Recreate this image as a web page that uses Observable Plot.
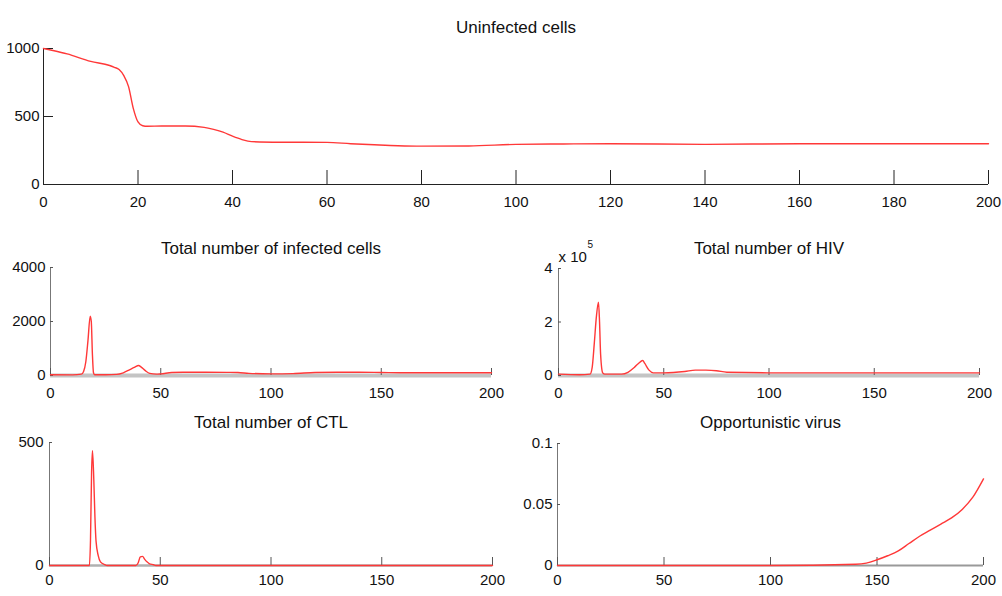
<!DOCTYPE html>
<html>
<head>
<meta charset="utf-8">
<script src="https://cdn.jsdelivr.net/npm/d3@7"></script>
<script src="https://cdn.jsdelivr.net/npm/@observablehq/plot@0.6"></script>
<style>
  html, body { margin: 0; padding: 0; background: #fff; }
  #chart { position: relative; width: 1002px; height: 596px; background: #fff; overflow: hidden; }
  #chart svg { position: absolute; }
</style>
</head>
<body>
<div id="chart"></div>
<script>
// ---------- DATA ----------
const titles = ["Uninfected cells", "Total number of infected cells", "Total number of HIV", "Total number of CTL", "Opportunistic virus"];

const uninfectedTime  = [0, 2, 5, 10, 14, 15, 16, 17, 18, 19, 20, 21, 22, 25, 30, 34, 36, 38, 40, 42, 44, 50, 60, 65, 70, 75, 80, 90, 100, 110, 120, 140, 160, 180, 200];
const uninfectedCells = [1000, 985, 960, 905, 875, 862, 845, 800, 720, 560, 460, 432, 428, 430, 430, 420, 405, 385, 355, 330, 315, 311, 310, 300, 292, 285, 282, 283, 295, 298, 300, 295, 300, 300, 300];

const infectedTime  = [0, 10, 14, 15, 16, 17, 18, 18.5, 19, 19.5, 20, 25, 30, 33, 36, 38, 40, 41, 43, 45, 48, 50, 55, 60, 70, 80, 85, 90, 100, 110, 120, 130, 140, 150, 160, 180, 200];
const infectedCells = [30, 25, 50, 150, 500, 1300, 2200, 2000, 800, 100, 30, 30, 40, 100, 220, 300, 370, 320, 180, 80, 50, 60, 110, 120, 120, 115, 110, 80, 60, 70, 110, 120, 120, 110, 100, 100, 100];

const hivTime = [0, 10, 15, 16, 17, 18, 19, 19.5, 20, 21, 22, 30, 33, 36, 38, 40, 41, 43, 45, 50, 60, 65, 70, 75, 80, 100, 150, 200];
const hivE5   = [0.05, 0.03, 0.05, 0.3, 1.2, 2.2, 2.74, 2.0, 0.8, 0.1, 0.05, 0.05, 0.12, 0.3, 0.45, 0.56, 0.45, 0.2, 0.1, 0.1, 0.15, 0.2, 0.2, 0.18, 0.12, 0.1, 0.1, 0.1];

const ctlTime  = [0, 18, 18.5, 19, 19.4, 20, 20.5, 21, 22, 23, 25, 26, 39, 40, 41, 42, 43, 44, 45, 47, 48, 200];
const ctlCount = [0, 0, 100, 380, 467, 350, 200, 100, 40, 15, 3, 0, 0, 10, 35, 37, 25, 15, 8, 3, 0, 0];

const oppTime  = [0, 100, 140, 145, 150, 155, 160, 165, 170, 175, 180, 185, 190, 195, 200];
const oppVirus = [0, 0, 0.001, 0.002, 0.0047, 0.008, 0.012, 0.018, 0.024, 0.029, 0.034, 0.039, 0.046, 0.056, 0.071];

const xTicksTop   = [0, 20, 40, 60, 80, 100, 120, 140, 160, 180, 200];
const xTicksSmall = [0, 50, 100, 150, 200];
const yTicksUninf = [0, 500, 1000];
const yTicksInf   = [0, 2000, 4000];
const yTicksHiv   = [0, 2, 4];
const yTicksCtl   = [0, 500];
const yTicksOpp   = [0, 0.05, 0.1];
const hivExponentBase = "x 10";
const hivExponent = "5";

const zip = (t, v) => t.map((d, i) => ({t: d, v: v[i]}));

// ---------- FONT PICK (narrow face if present, else Arial-metric face) ----------
function hasFont(name) {
  const c = document.createElement("canvas").getContext("2d");
  const s = "Uninfected cells 0123456789";
  c.font = "20px monospace"; const a = c.measureText(s).width;
  c.font = `20px "${name}", monospace`; const b = c.measureText(s).width;
  return Math.abs(a - b) > 0.5;
}
let FONT, TITLE_SIZE, TICK_SIZE, EXP_SIZE, EXP_DX;
if (hasFont("Liberation Sans Narrow")) {
  FONT = '"Liberation Sans Narrow", sans-serif'; TITLE_SIZE = 20; TICK_SIZE = 17; EXP_SIZE = 11; EXP_DX = 28;
} else {
  FONT = '"Liberation Sans", Arial, sans-serif'; TITLE_SIZE = 17; TICK_SIZE = 15; EXP_SIZE = 10; EXP_DX = 29;
}

// ---------- DRAWING ----------
const RED = "#ff3838";
const chart = document.getElementById("chart");

function panel(o) {
  const marks = [
    Plot.ruleY([o.yDomain[0]], {stroke: o.bandColor, strokeWidth: o.bandWidth}),
    Plot.ruleX([0], {stroke: o.axisColor, strokeWidth: 1}),
    Plot.axisX(o.xTicks, {label: null, tickSize: -o.xTickSize, tickPadding: o.xPad, stroke: o.tickColor, fill: "#111", fontSize: TICK_SIZE, tickFormat: d => String(d)}),
    Plot.axisY(o.yTicks, {label: null, tickSize: -o.yTickSize, tickPadding: o.yPad, stroke: o.tickColor, fill: "#111", fontSize: TICK_SIZE, tickFormat: d => String(d)}),
    Plot.line(o.data, {x: "t", y: "v", stroke: RED, strokeWidth: 1.4, curve: "monotone-x"}),
    Plot.text([o.title], {frameAnchor: "top", dy: o.titleDy, fontSize: TITLE_SIZE, fill: "#111"})
  ];
  if (o.extra) marks.push(...o.extra);
  const svg = Plot.plot({
    width: o.width, height: o.height,
    marginLeft: o.ml, marginRight: o.mr, marginTop: o.mt, marginBottom: o.mb,
    style: {fontFamily: FONT, fontSize: TICK_SIZE + "px", color: "#111", background: "transparent", overflow: "visible"},
    x: {domain: [0, 200], axis: null},
    y: {domain: o.yDomain, axis: null},
    marks
  });
  svg.style.left = o.left + "px";
  svg.style.top = o.top + "px";
  chart.appendChild(svg);
}

// Top: uninfected cells
panel({
  data: zip(uninfectedTime, uninfectedCells), title: titles[0],
  left: 0, top: 0, width: 1002, height: 215, ml: 43, mr: 14, mt: 48, mb: 31,
  yDomain: [0, 1000], xTicks: xTicksTop, yTicks: yTicksUninf,
  xTickSize: 14, xPad: 26, yTickSize: 10, yPad: 14,
  axisColor: "#222", tickColor: "#222", bandColor: "#222", bandWidth: 1.2, titleDy: -28
});

// Middle left: infected cells
panel({
  data: zip(infectedTime, infectedCells), title: titles[1],
  left: 0, top: 225, width: 500, height: 175, ml: 50, mr: 9, mt: 42, mb: 25,
  yDomain: [0, 4000], xTicks: xTicksSmall, yTicks: yTicksInf,
  xTickSize: 7, xPad: 19, yTickSize: 3, yPad: 8,
  axisColor: "#777", tickColor: "#555", bandColor: "#c4c4c4", bandWidth: 4, titleDy: -26
});

// Middle right: HIV
panel({
  data: zip(hivTime, hivE5), title: titles[2],
  left: 500, top: 225, width: 502, height: 175, ml: 58, mr: 23, mt: 43, mb: 25,
  yDomain: [0, 4], xTicks: xTicksSmall, yTicks: yTicksHiv,
  xTickSize: 7, xPad: 19, yTickSize: 3, yPad: 9,
  axisColor: "#777", tickColor: "#555", bandColor: "#c4c4c4", bandWidth: 4, titleDy: -27,
  extra: [
    Plot.text([hivExponentBase], {frameAnchor: "top-left", textAnchor: "start", dy: -17, fontSize: TICK_SIZE, fill: "#111"}),
    Plot.text([hivExponent], {frameAnchor: "top-left", textAnchor: "start", dx: EXP_DX, dy: -28, fontSize: EXP_SIZE, fill: "#111"})
  ]
});

// Bottom left: CTL
panel({
  data: zip(ctlTime, ctlCount), title: titles[3],
  left: 0, top: 400, width: 500, height: 196, ml: 49, mr: 8, mt: 42, mb: 31,
  yDomain: [0, 500], xTicks: xTicksSmall, yTicks: yTicksCtl,
  xTickSize: 8, xPad: 17, yTickSize: 3, yPad: 9,
  axisColor: "#777", tickColor: "#555", bandColor: "#b0b0b0", bandWidth: 2.5, titleDy: -27
});

// Bottom right: opportunistic virus
panel({
  data: zip(oppTime, oppVirus), title: titles[4],
  left: 500, top: 400, width: 502, height: 196, ml: 57, mr: 19, mt: 43, mb: 31,
  yDomain: [0, 0.1], xTicks: xTicksSmall, yTicks: yTicksOpp,
  xTickSize: 8, xPad: 17, yTickSize: 3, yPad: 8,
  axisColor: "#777", tickColor: "#555", bandColor: "#999", bandWidth: 2, titleDy: -28
});
</script>
</body>
</html>
